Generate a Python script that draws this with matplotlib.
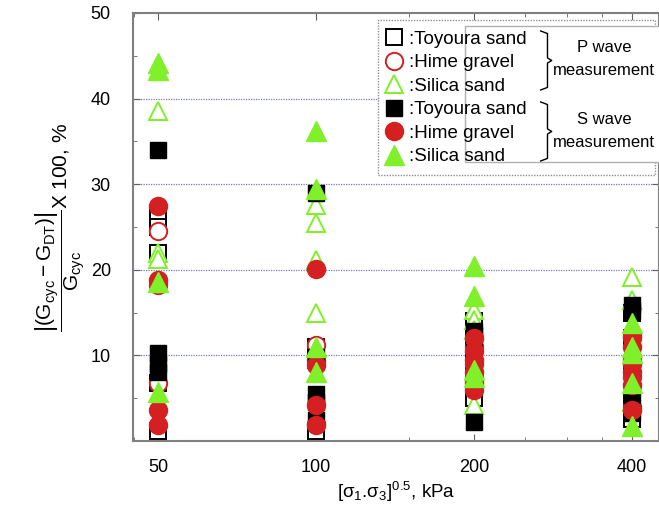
import numpy as np
import matplotlib
matplotlib.use("Agg")
import matplotlib.pyplot as plt
from matplotlib.patches import Rectangle
from matplotlib.ticker import FixedLocator, NullFormatter, LogLocator

plt.rcParams['font.family'] = ['Liberation Sans', 'DejaVu Sans']
plt.rcParams['mathtext.fontset'] = 'custom'
plt.rcParams['mathtext.rm'] = 'Liberation Sans'
plt.rcParams['mathtext.it'] = 'Liberation Sans'

# confining stress levels, kPa
stresses = [50, 100, 200, 400]

# P wave measurement (open markers), one list per stress level
toyoura_p = [[26.5, 25.0, 22.0, 6.8, 1.2], [11.0, 9.5, 1.2], [14.0, 12.5, 10.5, 8.5, 6.0, 5.0], [15.0, 12.0, 9.0, 4.4, 2.6]]
hime_p = [[24.5, 18.2, 6.8], [11.2, 9.5, 2.0], [11.0, 9.0, 7.5], [12.0, 9.5, 7.5, 4.0]]
silica_p = [[38.5, 22.0, 21.3], [27.6, 25.5, 21.2, 15.0], [15.3, 14.1, 13.0, 4.2], [19.1, 16.5, 4.6]]

# S wave measurement (filled markers)
toyoura_s = [[34.0, 10.3, 9.0, 8.0], [29.0, 9.8, 5.5, 4.5, 2.5], [12.8, 12.0, 2.2], [15.9, 15.2, 5.4, 3.3]]
hime_s = [[27.4, 18.8, 3.6, 1.9], [20.1, 8.9, 4.2, 1.9], [12.0, 10.5, 9.5, 8.0, 6.8, 6.0], [12.3, 11.0, 9.0, 8.0, 6.5, 3.6]]
silica_s = [[44.2, 43.3, 18.6, 5.7], [36.2, 29.4, 11.0, 8.1], [20.4, 16.9, 8.3, 7.5], [13.8, 11.0, 10.3, 6.8, 1.8]]

labels = [':Toyoura sand', ':Hime gravel', ':Silica sand']
red = '#d42020'
green = '#80f02a'


def flatten(groups):
    xs, ys = [], []
    for s, vals in zip(stresses, groups):
        xs += [s] * len(vals)
        ys += vals
    return xs, ys


fig = plt.figure(figsize=(6.59, 5.13), dpi=100)
ax = fig.add_axes([0.2018, 0.1404, 0.7982, 0.8343])

handles = []
# open markers first
for groups, mk, col, ms in [(toyoura_p, 's', 'black', 12), (hime_p, 'o', red, 12.5), (silica_p, '^', green, 13.5)]:
    xs, ys = flatten(groups)
    h, = ax.plot(xs, ys, linestyle='none', marker=mk, markersize=ms, markerfacecolor='white',
                 markeredgecolor=col, markeredgewidth=1.4, zorder=3)
    handles.append(h)
for groups, mk, col, ms in [(toyoura_s, 's', 'black', 12), (hime_s, 'o', red, 13), (silica_s, '^', green, 14)]:
    xs, ys = flatten(groups)
    h, = ax.plot(xs, ys, linestyle='none', marker=mk, markersize=ms, markerfacecolor=col,
                 markeredgecolor=col, markeredgewidth=1.0, zorder=4)
    handles.append(h)

ax.set_xscale('log')
ax.set_xlim(44.8, 450)
ax.set_ylim(0, 50)
ax.xaxis.set_major_locator(FixedLocator(stresses))
ax.set_xticklabels([str(s) for s in stresses])
ax.xaxis.set_minor_locator(LogLocator(base=10, subs=np.arange(1, 10) * 0.5))
ax.xaxis.set_minor_formatter(NullFormatter())
ax.set_yticks([10, 20, 30, 40, 50])
ax.set_yticks([5, 15, 25, 35, 45], minor=True)

for sp in ax.spines.values():
    sp.set_color('#808080')
    sp.set_linewidth(1.5)
ax.tick_params(which='both', direction='in', top=True, right=True, color='#606060', labelsize=13)
ax.tick_params(which='major', length=5)
ax.tick_params(which='minor', length=3)
ax.tick_params(axis='x', pad=13)
ax.tick_params(axis='y', pad=16)

for g in [10, 20, 30, 40]:
    ax.axhline(g, color='#7878c0', linewidth=0.9, linestyle=(0, (1, 1)), zorder=1)

ax.set_xlabel(r'[$\mathrm{\sigma_1}$.$\mathrm{\sigma_3}$]$^{0.5}$, kPa', fontsize=13.5, labelpad=3)
ax.set_ylabel(r'$\dfrac{\left|(\mathrm{G_{cyc}} - \mathrm{G_{DT}})\right|}{\mathrm{G_{cyc}}}$X 100, %',
              fontsize=15, labelpad=2)

# legend boxes
ax.add_patch(Rectangle((0.466, 0.621), 0.526, 0.363, transform=ax.transAxes, facecolor='white',
                       edgecolor='#909090', linestyle=(0, (1, 1)), linewidth=1.0, zorder=5))
ax.add_patch(Rectangle((0.631, 0.652), 0.37, 0.318, transform=ax.transAxes, facecolor='white',
                       edgecolor='#b0b0b0', linewidth=1.0, zorder=5, clip_on=False))

leg = ax.legend(handles, labels + labels, loc='upper left', bbox_to_anchor=(0.477, 0.959),
                frameon=False, fontsize=13.5, handletextpad=0.25, labelspacing=0.34,
                borderpad=0.0, handlelength=1.1, borderaxespad=0.0)
leg.set_zorder(6)


def brace(y_top, y_bot):
    # curly brace drawn in axes fraction coords
    x0, x1, x2 = 0.775, 0.788, 0.796
    ym = (y_top + y_bot) / 2
    ax.plot([x0, x1, x1, x2, x1, x1, x0], [y_top, y_top - 0.006, ym + 0.006, ym, ym - 0.006, y_bot + 0.006, y_bot],
            color='black', linewidth=1.0, transform=ax.transAxes, zorder=7, clip_on=False)


brace((441 - 31) / 428, (441 - 90) / 428)
brace((441 - 102) / 428, (441 - 161) / 428)

for txt, py in [('P wave', 48), ('measurement', 71), ('S wave', 120), ('measurement', 143)]:
    ax.text((604 - 133) / 526, (441 - py) / 428, txt, transform=ax.transAxes, fontsize=12,
            ha='center', va='center', zorder=7)

fig.savefig('out.png', dpi=100)
